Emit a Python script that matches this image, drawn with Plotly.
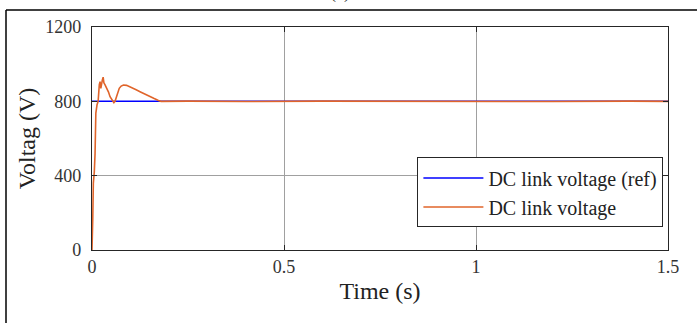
import plotly.graph_objects as go

# Reference DC link voltage
t_ref = [0.0, 1.5]
v_ref = [800, 800]

t_dc = [0.0, 0.0005, 0.002, 0.0035, 0.006, 0.008, 0.010, 0.013, 0.016, 0.019, 0.021,
        0.023, 0.025, 0.027, 0.029, 0.031, 0.034, 0.038, 0.043, 0.047, 0.052, 0.057,
        0.060, 0.064, 0.068, 0.071, 0.076, 0.082, 0.090, 0.095, 0.105, 0.115, 0.125,
        0.138, 0.151, 0.162, 0.173, 0.180, 0.25, 0.4, 0.6, 0.8, 1.0, 1.2, 1.4, 1.5]
v_dc = [0, 150, 170, 360, 420, 520, 737, 780, 800, 890, 906,
        870, 900, 915, 930, 900, 888, 872, 850, 825, 805, 793,
        800, 825, 850, 870, 882, 888, 886, 882, 872, 862, 852,
        838, 825, 815, 805, 800, 801, 799, 801, 799, 801, 799, 801, 800]

x_ticks = [0, 0.5, 1, 1.5]
x_tick_labels = ["0", "0.5", "1", "1.5"]
y_ticks = [0, 400, 800, 1200]
y_tick_labels = ["0", "400", "800", "1200"]

FONT = "Liberation Serif"

fig = go.Figure()
fig.add_trace(go.Scatter(x=t_ref, y=v_ref, mode="lines", name="DC link voltage (ref)",
                         line=dict(color="#0000ff", width=1.5)))
fig.add_trace(go.Scatter(x=t_dc, y=v_dc, mode="lines", name="DC link voltage",
                         line=dict(color="#e0642a", width=1.6)))

axis_common = dict(showline=True, linecolor="#262626", linewidth=1.3, mirror="ticks",
                   ticks="inside", ticklen=5, tickcolor="#262626",
                   showgrid=True, gridcolor="#a0a0a0", gridwidth=1,
                   zeroline=False, tickfont=dict(family=FONT, size=18, color="#333333"))

fig.update_xaxes(range=[0, 1.5], tickvals=x_ticks, ticktext=x_tick_labels,
                 title=dict(text="Time (s)", font=dict(family=FONT, size=24, color="#222222"),
                            standoff=6), **axis_common)
fig.update_yaxes(range=[0, 1200], tickvals=y_ticks, ticktext=y_tick_labels,
                 ticklabelstandoff=6,
                 title=dict(text="Voltag (V)", font=dict(family=FONT, size=24, color="#222222"),
                            standoff=2), **axis_common)

fig.update_layout(
    width=697, height=323,
    margin=dict(l=92, r=29, t=27, b=73),
    paper_bgcolor="white", plot_bgcolor="white",
    showlegend=True,
    legend=dict(x=0.992, y=0.415, xanchor="right", yanchor="top",
                bgcolor="white", bordercolor="#262626", borderwidth=1,
                font=dict(family=FONT, size=20, color="#222222"),
                tracegroupgap=0, itemwidth=60),
    shapes=[
        dict(type="line", xref="paper", yref="paper", x0=-86/576, x1=(697-92)/576 + 0.1,
             y0=1 + 17/223, y1=1 + 17/223, line=dict(color="black", width=1.5)),
        dict(type="line", xref="paper", yref="paper", x0=-86/576, x1=-86/576,
             y0=1 + 17/223, y1=-0.5, line=dict(color="black", width=1.5)),
    ],
    annotations=[
        dict(text="(c)", xref="paper", yref="paper", x=(340-92)/576, y=1 + 22/223,
             showarrow=False, yanchor="bottom", font=dict(family=FONT, size=18, color="#222222")),
    ],
)

fig.write_html("out.html")
